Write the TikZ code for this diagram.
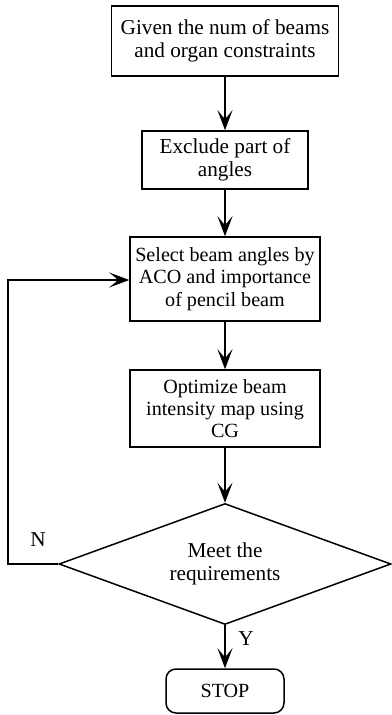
\documentclass[tikz,border=0pt]{standalone}
\usepackage{fontspec}
\setmainfont{Liberation Serif}
\usetikzlibrary{shapes.geometric,arrows.meta}
\begin{document}
\begin{tikzpicture}[x=1bp,y=-1bp,
  line width=1.5bp,
  font=\fontsize{21.3}{23.2}\selectfont,
  small/.style={font=\fontsize{20.2}{22.3}\selectfont},
  >={Stealth[length=20bp,width=15bp,inset=9bp]},
  procbox/.style={draw,rectangle,align=center,inner sep=0pt},
  decision/.style={draw,diamond,shape aspect=2.74,align=center,inner sep=0pt},
  endbox/.style={draw,rectangle,rounded corners=10bp,align=center,inner sep=0pt},
  flow/.style={->}]
\useasboundingbox (0,0) rectangle (391,715);
\node[procbox,minimum width=227bp,minimum height=70bp] (b1) at (225,41)
  {Given the num of beams\\and organ constraints};
\node[procbox,minimum width=166bp,minimum height=58bp] (b2) at (225,160)
  {Exclude part of\\angles};
\node[procbox,small,minimum width=190bp,minimum height=84bp] (b3) at (225,279)
  {Select beam angles by\\ACO and importance\\of pencil beam};
\node[procbox,small,minimum width=190bp,minimum height=77bp] (b4) at (225,408.5)
  {Optimize beam\\intensity map using\\CG};
\node[decision,minimum width=332bp,minimum height=121bp] (d) at (225,564)
  {Meet the\\requirements};
\node[endbox,small,minimum width=118bp,minimum height=44bp] (stop) at (225,691)
  {STOP};
\coordinate (lb) at (8,564);
\coordinate (lt) at (8,280);
\draw[flow] (b1) -- (b2);
\draw[flow] (b2) -- (b3);
\draw[flow] (b3) -- (b4);
\draw[flow] (b4) -- (d);
\draw[flow] (d) -- (stop);
\draw[flow] (d.west) -- (lb) -- (lt) -- (b3.west |- lt);
\node (n) at (38,540) {N};
\node (y) at (246,639) {Y};
\end{tikzpicture}
\end{document}
